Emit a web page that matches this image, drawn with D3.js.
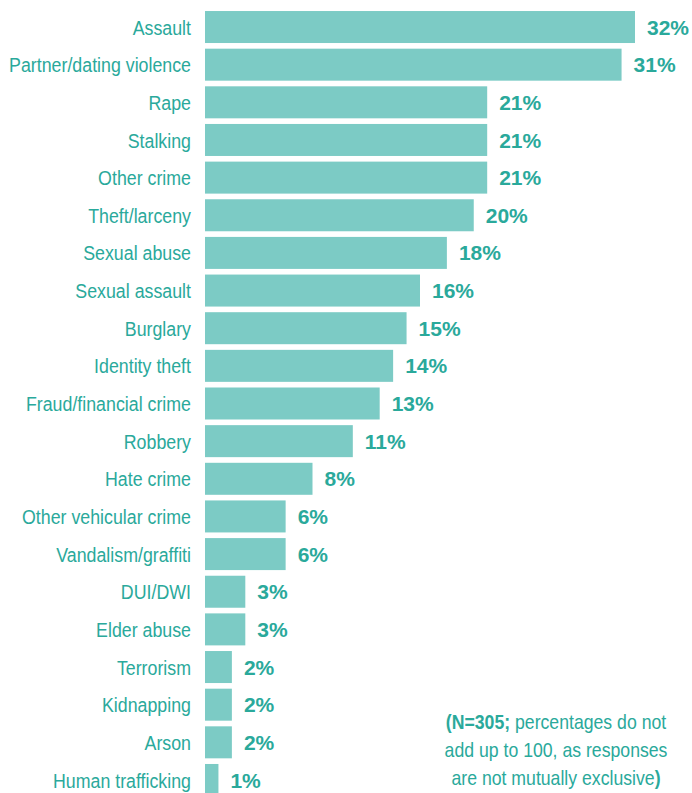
<!DOCTYPE html>
<html>
<head>
<meta charset="utf-8">
<script src="https://cdn.jsdelivr.net/npm/d3@7"></script>
<style>
  body { margin: 0; background: #fff; }
  svg text { font-family: "Liberation Sans", Arial, sans-serif; }
</style>
</head>
<body>
<div id="chart"></div>
<script>
// Crime types and share of respondents (%)
const categories = [
  'Assault', 'Partner/dating violence', 'Rape', 'Stalking', 'Other crime',
  'Theft/larceny', 'Sexual abuse', 'Sexual assault', 'Burglary', 'Identity theft',
  'Fraud/financial crime', 'Robbery', 'Hate crime', 'Other vehicular crime',
  'Vandalism/graffiti', 'DUI/DWI', 'Elder abuse', 'Terrorism', 'Kidnapping',
  'Arson', 'Human trafficking'
];
const values = [32, 31, 21, 21, 21, 20, 18, 16, 15, 14, 13, 11, 8, 6, 6, 3, 3, 2, 2, 2, 1];
const noteLines = [
  [{ t: '(N=305;', b: true }, { t: ' percentages do not', b: false }],
  [{ t: 'add up to 100, as responses', b: false }],
  [{ t: 'are not mutually exclusive', b: false }, { t: ')', b: true }]
];

const data = categories.map((c, i) => ({ name: c, value: values[i] }));

const width = 692, height = 793;
const barColor = '#7ccbc5';
const textColor = '#2aa99b';

const svg = d3.select('#chart')
  .append('svg')
  .attr('width', width)
  .attr('height', height);

// Scales
const x = d3.scaleLinear().domain([0, 32]).range([205, 635]);
const y = d3.scaleBand()
  .domain(categories)
  .range([8.2, 798.8])
  .paddingInner(0.15)
  .paddingOuter(0.075);

// Bars
svg.selectAll('.bar')
  .data(data)
  .enter()
  .append('rect')
  .attr('class', 'bar')
  .attr('x', x(0))
  .attr('y', (d) => y(d.name))
  .attr('width', (d) => x(d.value) - x(0))
  .attr('height', y.bandwidth())
  .attr('fill', barColor);

// Category labels (condensed look: squeeze horizontally)
const catG = svg.append('g');
catG.selectAll('.cat')
  .data(data)
  .enter()
  .append('text')
  .attr('class', 'cat')
  .attr('x', 0)
  .attr('y', (d) => y(d.name) + y.bandwidth() / 2)
  .attr('dy', '0.36em')
  .attr('text-anchor', 'end')
  .style('font-size', '21px')
  .attr('fill', textColor)
  .text((d) => d.name);
const longest = catG.selectAll('.cat').filter((d) => d.name === 'Partner/dating violence').node();
const kCat = 182 / longest.getComputedTextLength();
catG.attr('transform', 'translate(191,0) scale(' + kCat + ',1)');

// Value labels
svg.selectAll('.val')
  .data(data)
  .enter()
  .append('text')
  .attr('class', 'val')
  .attr('x', (d) => x(d.value) + 12)
  .attr('y', (d) => y(d.name) + y.bandwidth() / 2)
  .attr('dy', '0.36em')
  .style('font-size', '21px')
  .style('font-weight', 'bold')
  .attr('fill', textColor)
  .text((d) => d.value + '%');

// Note
const note = svg.append('g').attr('class', 'note');
noteLines.forEach((line, i) => {
  const t = note.append('text')
    .attr('x', 0)
    .attr('y', 729 + i * 28)
    .attr('text-anchor', 'middle')
    .style('font-size', '20px')
    .attr('fill', textColor);
  line.forEach((seg) => {
    t.append('tspan')
      .style('font-weight', seg.b ? 'bold' : 'normal')
      .text(seg.t);
  });
});
const kNote = 223 / note.selectAll('text').nodes()[1].getComputedTextLength();
note.attr('transform', 'translate(556,0) scale(' + kNote + ',1)');
</script>
</body>
</html>
